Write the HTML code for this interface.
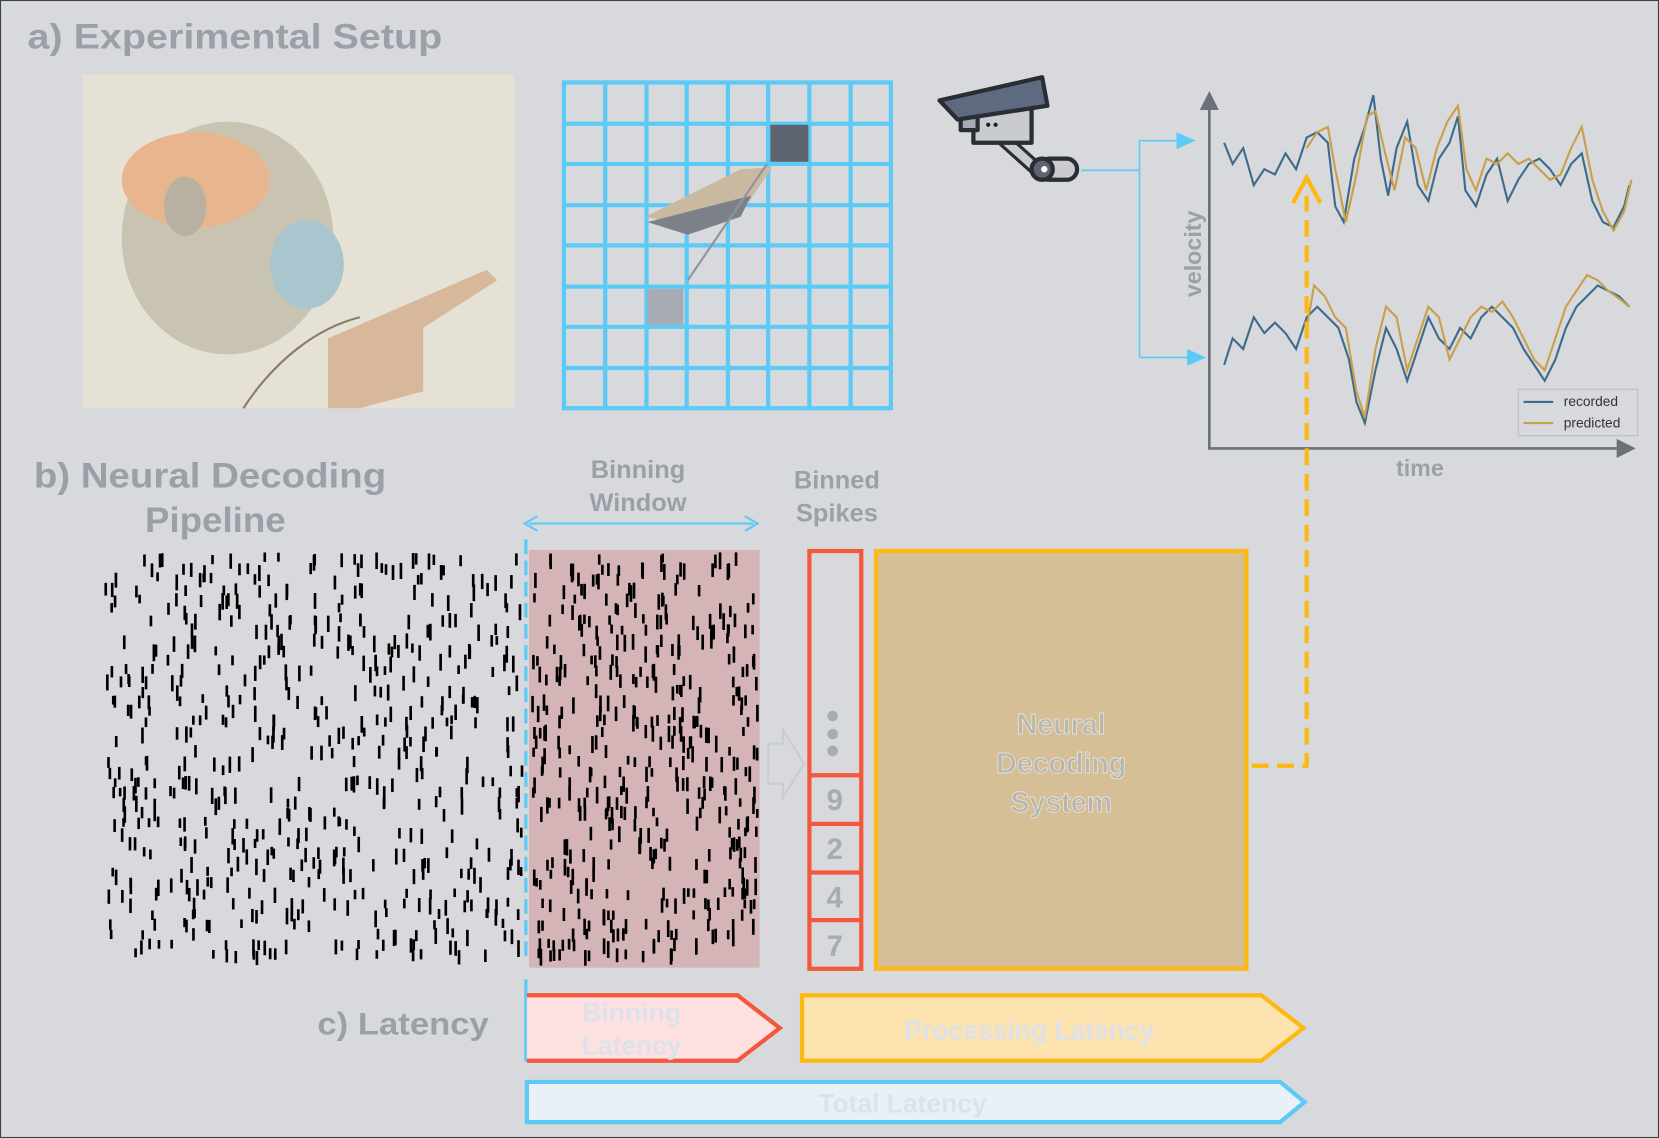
<!DOCTYPE html>
<html><head><meta charset="utf-8"><style>
html,body{margin:0;padding:0;background:#d8d9dc;}
svg{display:block}
text{font-family:"Liberation Sans",sans-serif;font-weight:bold}
</style></head><body>
<svg id="s" width="1659" height="1138" viewBox="0 0 1568 1076" preserveAspectRatio="none" xmlns="http://www.w3.org/2000/svg">
<rect width="1568" height="1076" fill="#d8d9dc"/>
<rect x="0" y="0" width="1568" height="1076" fill="none" stroke="#3a3f4a" stroke-width="2"/>
<text x="26" y="46" font-size="33" fill="#9ba0a8" textLength="392" lengthAdjust="spacingAndGlyphs">a) Experimental  Setup</text>

<!-- monkey picture -->
<rect x="78" y="70" width="408" height="316" fill="#e5e2d5"/>
<ellipse cx="215" cy="225" rx="100" ry="110" fill="#c9c3b2"/>
<ellipse cx="185" cy="170" rx="70" ry="45" fill="#e8b58e"/>
<ellipse cx="290" cy="250" rx="35" ry="42" fill="#a9c6cf"/>
<ellipse cx="175" cy="195" rx="20" ry="28" fill="#b8b0a0"/>
<path d="M310 320 L460 255 L470 265 L400 310 L400 370 L340 386 L310 386 Z" fill="#d8b89a"/>
<path d="M230 386 C260 340 300 310 340 300" stroke="#8a7a6a" stroke-width="2" fill="none"/>

<!-- grid -->
<g stroke="#5ccaf6" stroke-width="4" fill="none">
<rect x="533" y="78" width="309" height="308"/>
<path d="M572 78V386M611 78V386M649 78V386M688 78V386M726 78V386M765 78V386M804 78V386M533 117H842M533 155H842M533 194H842M533 232H842M533 271H842M533 309H842M533 348H842"/>
</g>
<rect x="728" y="118" width="36" height="35" fill="#5d6470"/>
<rect x="612" y="273" width="34" height="34" fill="#a6abb4"/>
<path d="M610 205 L650 185 L700 160 L730 158 L705 195 L655 215 Z" fill="#c9b9a0"/>
<path d="M612 210 L710 185 L700 205 L650 222 Z" fill="#7c8089"/>
<line x1="725" y1="155" x2="650" y2="265" stroke="#8f949c" stroke-width="2"/>

<!-- camera -->
<g stroke="#2a2d33" stroke-width="4" stroke-linejoin="round">
<path d="M941 125 L980 160" stroke-width="14" stroke="#2a2d33"/>
<path d="M941 125 L980 160" stroke-width="8" stroke="#c9cbcf"/>
<rect x="982" y="150" width="36" height="20" rx="10" fill="#c9cbcf"/>
<circle cx="985" cy="160" r="10" fill="#5d6470"/>
<rect x="920" y="100" width="55" height="35" fill="#c9cbcf"/>
<rect x="908" y="103" width="16" height="20" fill="#a6abb4"/>
<path d="M888 95 L985 73 L990 100 L905 113 Z" fill="#5d6a80"/>
</g>
<circle cx="987" cy="160" r="3" fill="#fff"/>
<circle cx="934" cy="118" r="2" fill="#222"/><circle cx="941" cy="118" r="2" fill="#222"/>

<!-- connectors -->
<g stroke="#5ccaf6" stroke-width="1.5" fill="none">
<path d="M1022 161 H1077 M1077 133 V338 M1077 133 H1117 M1077 338 H1125"/>
</g>
<path d="M1112 125 L1130 133 L1112 141 Z" fill="#5ccaf6"/>
<path d="M1122 330 L1140 338 L1122 346 Z" fill="#5ccaf6"/>

<!-- plot axes -->
<g stroke="#6b7079" stroke-width="2.5" fill="none">
<path d="M1143 100 V424 H1530"/>
</g>
<path d="M1134 104 L1143 86 L1152 104 Z" fill="#6b7079"/>
<path d="M1528 415 L1546 424 L1528 433 Z" fill="#6b7079"/>
<text x="1135" y="240" font-size="22" fill="#9ba0a8" transform="rotate(-90 1135 240)" text-anchor="middle">velocity</text>
<text x="1342" y="450" font-size="22" fill="#9ba0a8" text-anchor="middle">time</text>
<!-- curves -->
<path d="M1157 135 L1165 155 L1175 140 L1185 175 L1195 160 L1205 165 L1215 145 L1225 160 L1235 130 L1245 125 L1255 135 L1262 195 L1270 210 L1280 150 L1290 120 L1298 90 L1305 150 L1312 185 L1320 140 L1330 115 L1340 175 L1350 190 L1360 150 L1370 135 L1378 110 L1385 180 L1395 195 L1405 165 L1415 150 L1425 190 L1435 170 L1445 155 L1455 150 L1465 160 L1475 175 L1485 155 L1495 145 L1505 190 L1515 210 L1525 215 L1535 195 L1540 175" fill="none" stroke="#3d6b8c" stroke-width="2"/>
<path d="M1235 140 L1245 125 L1255 120 L1262 160 L1272 210 L1282 165 L1292 110 L1300 105 L1308 140 L1318 180 L1328 130 L1338 140 L1348 180 L1358 140 L1368 115 L1378 100 L1386 160 L1395 180 L1405 150 L1415 155 L1425 145 L1435 155 L1445 150 L1455 160 L1465 170 L1475 165 L1485 140 L1495 120 L1505 170 L1515 200 L1525 218 L1535 200 L1542 170" fill="none" stroke="#c8a04a" stroke-width="2"/>
<path d="M1157 345 L1165 320 L1175 330 L1185 300 L1195 315 L1205 305 L1215 315 L1225 330 L1235 300 L1245 290 L1255 300 L1265 310 L1275 340 L1282 380 L1290 400 L1300 350 L1310 310 L1320 330 L1330 360 L1340 330 L1350 300 L1360 320 L1370 330 L1380 310 L1390 320 L1400 300 L1410 290 L1420 300 L1430 310 L1440 330 L1450 345 L1460 360 L1470 340 L1480 310 L1490 290 L1500 280 L1510 270 L1520 275 L1530 280 L1540 290" fill="none" stroke="#3d6b8c" stroke-width="2"/>
<path d="M1235 310 L1242 270 L1252 280 L1262 300 L1272 310 L1282 370 L1290 395 L1300 330 L1310 290 L1320 300 L1330 350 L1340 320 L1350 290 L1360 300 L1370 340 L1380 320 L1390 300 L1400 290 L1410 295 L1420 285 L1430 300 L1440 320 L1450 340 L1460 350 L1470 320 L1480 290 L1490 275 L1500 260 L1510 265 L1520 275 L1530 282 L1540 290" fill="none" stroke="#c8a04a" stroke-width="2"/>
<rect x="1435" y="368" width="113" height="44" fill="#d8d9dc" stroke="#b8bcc2" stroke-width="1"/>
<line x1="1440" y1="380" x2="1468" y2="380" stroke="#3d6b8c" stroke-width="2"/>
<line x1="1440" y1="400" x2="1468" y2="400" stroke="#c8a04a" stroke-width="2"/>
<text x="1478" y="384" font-size="13" fill="#333" style="font-weight:normal">recorded</text>
<text x="1478" y="404" font-size="13" fill="#333" style="font-weight:normal">predicted</text>

<!-- b) -->
<text x="32" y="461" font-size="33" fill="#9ba0a8" textLength="333" lengthAdjust="spacingAndGlyphs">b) Neural Decoding</text>
<text x="137" y="503" font-size="33" fill="#9ba0a8" textLength="133" lengthAdjust="spacingAndGlyphs">Pipeline</text>
<text x="603" y="452" font-size="24" fill="#9ba0a8" text-anchor="middle">Binning</text>
<text x="603" y="483" font-size="24" fill="#9ba0a8" text-anchor="middle">Window</text>
<text x="791" y="462" font-size="24" fill="#9ba0a8" text-anchor="middle">Binned</text>
<text x="791" y="493" font-size="24" fill="#9ba0a8" text-anchor="middle">Spikes</text>
<line x1="500" y1="495" x2="712" y2="495" stroke="#5ccaf6" stroke-width="2"/>
<path d="M508 488 L496 495 L508 502" fill="none" stroke="#5ccaf6" stroke-width="2"/>
<path d="M704 488 L716 495 L704 502" fill="none" stroke="#5ccaf6" stroke-width="2"/>

<rect x="500" y="520" width="218" height="395" fill="#d5b4b7"/>
<g id="raster"></g>
<line x1="497" y1="510" x2="497" y2="910" stroke="#5ccaf6" stroke-width="3" stroke-dasharray="14 6"/>

<!-- hollow arrow -->
<path d="M726 703 H740 V690 L760 722 L740 754 V741 H726 Z" fill="none" stroke="#c9ccd1" stroke-width="2"/>

<!-- binned column -->
<g fill="none" stroke="#f4583a" stroke-width="4">
<rect x="765" y="521" width="49" height="395"/>
<path d="M765 733H814M765 779H814M765 825H814M765 870H814"/>
</g>
<circle cx="787" cy="677" r="5" fill="#a6abb4"/><circle cx="787" cy="694" r="5" fill="#a6abb4"/><circle cx="787" cy="710" r="5" fill="#a6abb4"/>
<g font-size="28" fill="#a6abb4" text-anchor="middle" style="font-family:'Liberation Serif',serif">
<text x="789" y="766">9</text><text x="789" y="812">2</text><text x="789" y="858">4</text><text x="789" y="904">7</text>
</g>

<!-- NDS -->
<rect x="828" y="521" width="350" height="395" fill="#d6bf97" stroke="#fdb913" stroke-width="4"/>
<g font-size="27" fill="#b8b6ad" text-anchor="middle" style="font-weight:normal;font-family:'Liberation Serif',serif" stroke="#ececec" stroke-width="0.6">
<text x="1003" y="694">Neural</text><text x="1003" y="731">Decoding</text><text x="1003" y="768">System</text>
</g>
<path d="M1183 724 H1235 V185" fill="none" stroke="#fdb913" stroke-width="4" stroke-dasharray="16 8"/>
<path d="M1222 192 L1235 168 L1248 192" fill="none" stroke="#fdb913" stroke-width="4"/>

<!-- c) -->
<text x="300" y="978" font-size="30" fill="#9ba0a8" textLength="162" lengthAdjust="spacingAndGlyphs">c) Latency</text>
<line x1="497" y1="926" x2="497" y2="1004" stroke="#5ccaf6" stroke-width="3"/>
<path d="M498 941 H697 L737 972 L697 1003 H498" fill="#fde1e1" stroke="#f4583a" stroke-width="4"/>
<path d="M758 941 H1192 L1232 972 L1192 1003 H758 Z" fill="#fde3b0" stroke="#fdb913" stroke-width="4"/>
<path d="M498 1023 H1210 L1233 1042 L1210 1061 H498 Z" fill="#e9f0f7" stroke="#5ccaf6" stroke-width="4"/>
<g font-size="25" fill="#dde2ea" text-anchor="middle">
<text x="597" y="966">Binning</text><text x="597" y="997">Latency</text>
<text x="973" y="983">Processing Latency</text>
<text x="853" y="1052">Total Latency</text>
</g>
</svg>
<script>
(function(){
var g=document.getElementById('raster'),s=1234567;
function r(){s=(s*1103515245+12345)%2147483648;return s/2147483648;}
var h='';
for(var row=0;row<40;row++){
 var y=522+row*9.6;
 var n=Math.floor(10+r()*10);
 for(var i=0;i<n;i++){var x=97+r()*398;h+='<rect x="'+x.toFixed(1)+'" y="'+(y+r()*3).toFixed(1)+'" width="2.5" height="'+(8+r()*8).toFixed(1)+'" fill="#000"/>';}
 var m=Math.floor(8+r()*7);
 for(var j=0;j<m;j++){var x2=502+r()*213;h+='<rect x="'+x2.toFixed(1)+'" y="'+(y+r()*3).toFixed(1)+'" width="2.5" height="'+(8+r()*8).toFixed(1)+'" fill="#000"/>';}
}
g.innerHTML=h;
})();
</script>
</body></html>
